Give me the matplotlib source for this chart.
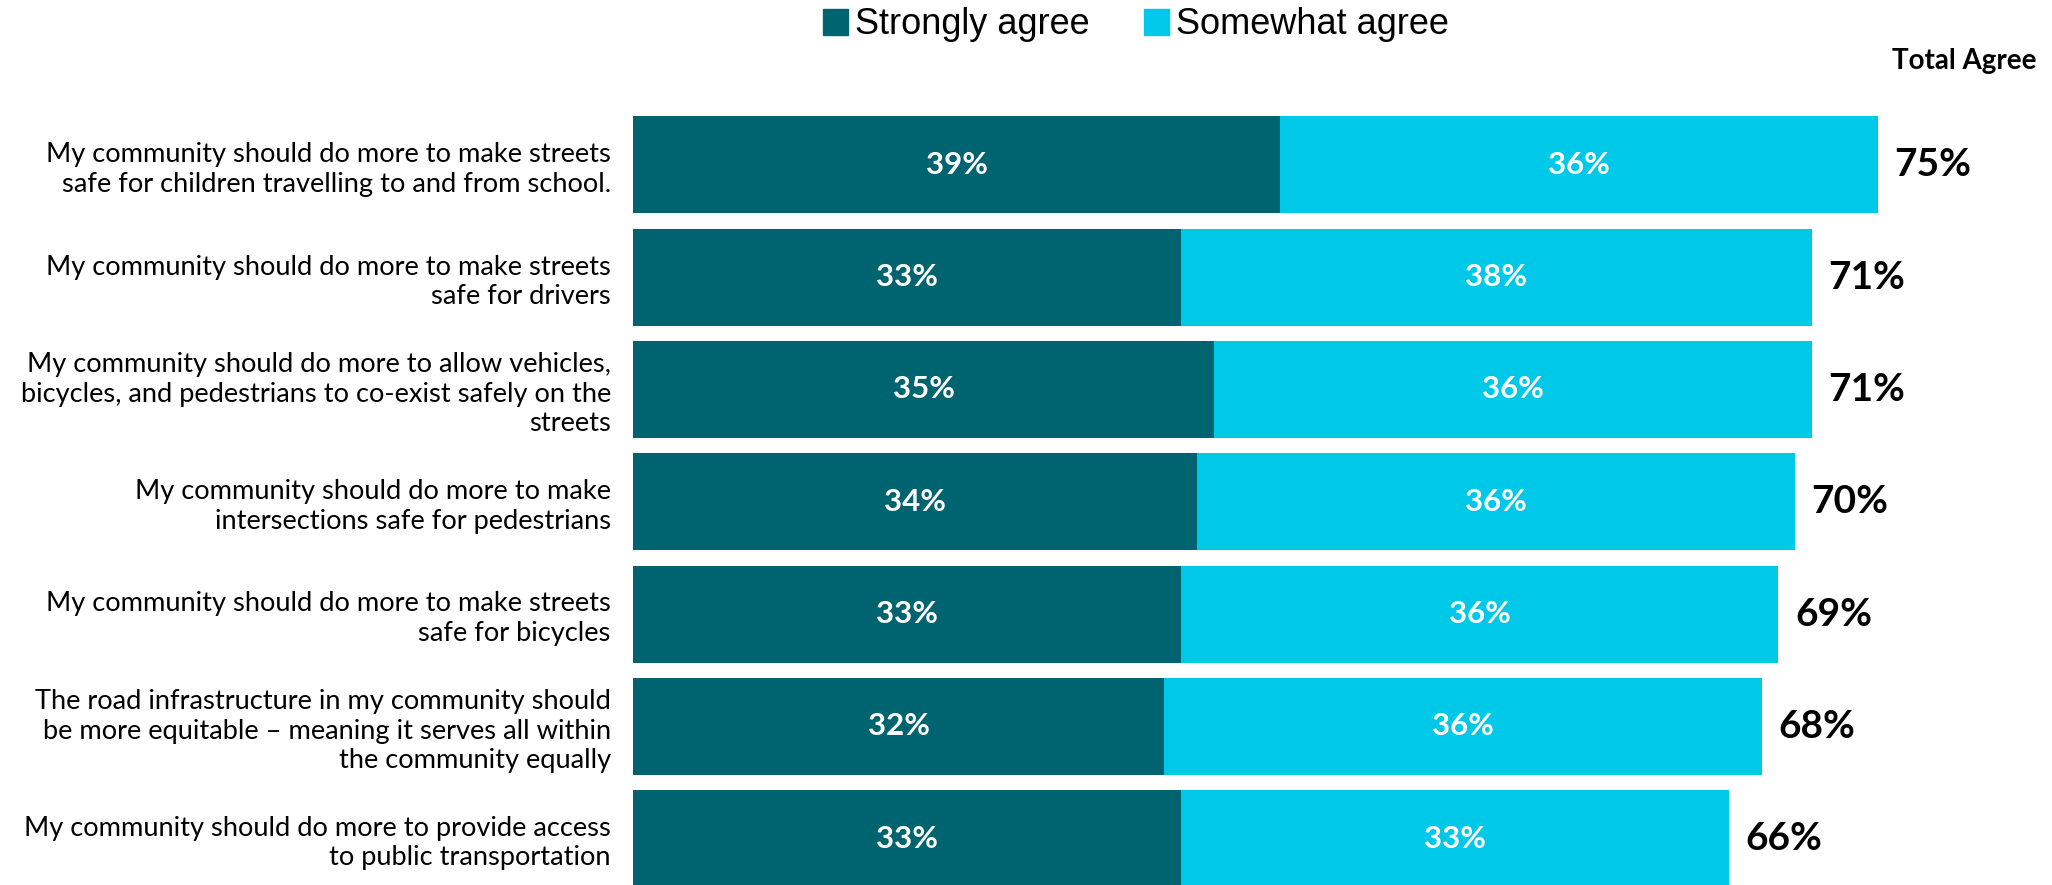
import matplotlib
matplotlib.use('Agg')
import matplotlib.pyplot as plt
from matplotlib.patches import Patch

categories = [
    "My community should do more to make streets\nsafe for children travelling to and from school.",
    "My community should do more to make streets\nsafe for drivers",
    "My community should do more to allow vehicles,\nbicycles, and pedestrians to co-exist safely on the\nstreets",
    "My community should do more to make\nintersections safe for pedestrians",
    "My community should do more to make streets\nsafe for bicycles",
    "The road infrastructure in my community should\nbe more equitable \u2013 meaning it serves all within\nthe community equally",
    "My community should do more to provide access\nto public transportation",
]
strongly = [39, 33, 35, 34, 33, 32, 33]
somewhat = [36, 38, 36, 36, 36, 36, 33]
total = [75, 71, 71, 70, 69, 68, 66]

dark = '#006470'
light = '#00C8E8'

W, H = 2052, 885
fig = plt.figure(figsize=(W / 100, H / 100), dpi=100)

# axes starts where bars start, one y unit = one bar slot
left_px = 633
px_per_pct = 16.6
ax = fig.add_axes([left_px / W, 0, 1 - left_px / W, 1])
ax.set_xlim(0, (W - left_px) / px_per_pct)
pitch = 112.3
first_center = 164.8
ax.set_ylim((H - first_center) / pitch, -first_center / pitch)

y = list(range(len(categories)))
bh = 97 / pitch
ax.barh(y, strongly, height=bh, color=dark)
ax.barh(y, somewhat, left=strongly, height=bh, color=light)

for i in y:
    ax.text(strongly[i] / 2, i, f"{strongly[i]}%", ha='center', va='center',
            color='white', fontsize=22.5, fontweight='bold', family='Lato')
    ax.text(strongly[i] + somewhat[i] / 2, i, f"{somewhat[i]}%", ha='center', va='center',
            color='white', fontsize=22.5, fontweight='bold', family='Lato')
    ax.text(strongly[i] + somewhat[i] + 1.0, i, f"{total[i]}%", ha='left', va='center',
            color='black', fontsize=28, fontweight='bold', family='Lato')

ax.set_yticks(y)
ax.set_yticklabels(categories, fontsize=19.6, family='Lato', linespacing=1.22)
ax.tick_params(axis='y', length=0, pad=16)
ax.set_xticks([])
for s in ax.spines.values():
    s.set_visible(False)

fig.text(2037 / W, 1 - 61 / H, "Total Agree", ha='right', va='center',
         fontsize=20, fontweight='bold', family='Lato')

handles = [Patch(color=dark, label='Strongly agree'), Patch(color=light, label='Somewhat agree')]
fig.legend(handles=handles, loc='center', bbox_to_anchor=(1136 / W, 1 - 25 / H), ncol=2,
           frameon=False, prop={'family': 'Liberation Sans', 'size': 26},
           handlelength=0.7, handleheight=0.7, handletextpad=0.2, columnspacing=1.5)

fig.savefig('out.png', dpi=100)
